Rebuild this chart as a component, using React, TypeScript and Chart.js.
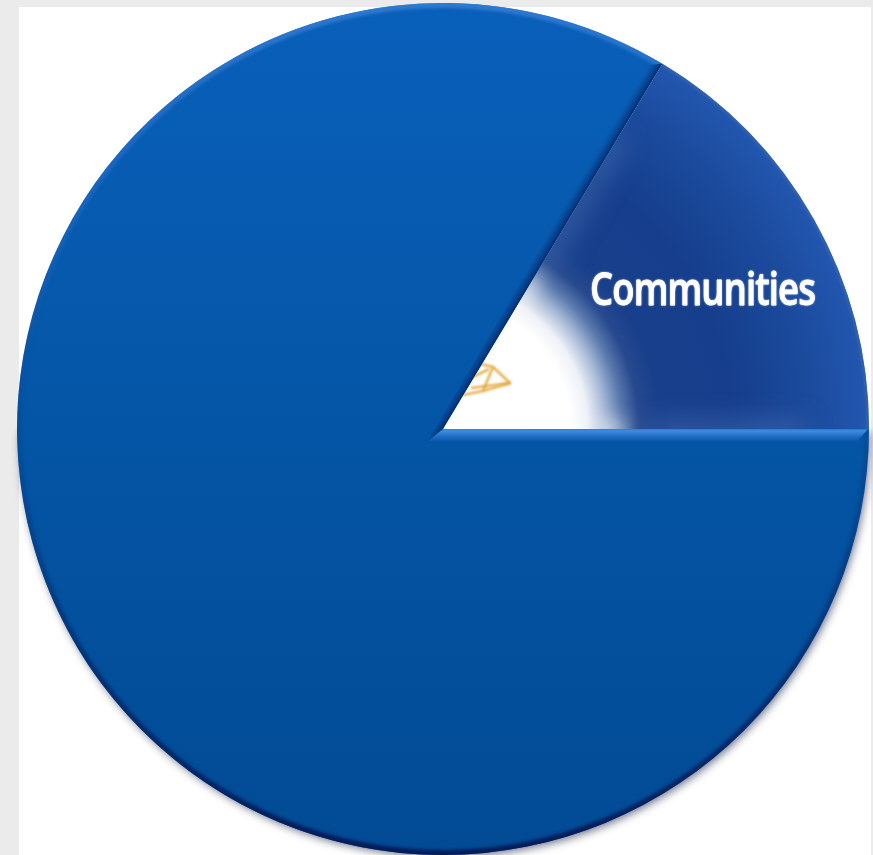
import React, { useEffect, useRef } from "react";
import { Chart, registerables } from "chart.js";

Chart.register(...registerables);

const categories = ["Communities", "Other"];
const shareValues = [16.4, 83.6];
const visibleLabels = ["Communities"];
const startRotation = 31;

const emblemStrokes = [
  [[26, -52], [38, -65], [50, -62], [67, -46], [40, -38], [20, -34]],
  [[50, -62], [40, -38]],
  [[30, -52], [46, -60]],
  [[28, -41], [67, -46]],
];

function sliceFill(c: any) {
  const area = c.chart.chartArea;
  if (!area) return "#0a5cb0";
  const g = c.chart.ctx;
  const cx = (area.left + area.right) / 2;
  const cy = (area.top + area.bottom) / 2;
  const R = (area.right - area.left) / 2;
  if (c.dataIndex === 0) {
    const rad = g.createRadialGradient(cx, cy, 0, cx, cy, R);
    rad.addColorStop(0, "#ffffff");
    rad.addColorStop(0.3, "#ffffff");
    rad.addColorStop(0.34, "#eef1f7");
    rad.addColorStop(0.38, "#a9bad7");
    rad.addColorStop(0.42, "#5a79ad");
    rad.addColorStop(0.46, "#27498f");
    rad.addColorStop(0.51, "#183f8b");
    rad.addColorStop(0.68, "#163e8c");
    rad.addColorStop(0.86, "#1b4a9c");
    rad.addColorStop(1, "#2257b0");
    return rad;
  }
  const lin = g.createLinearGradient(0, area.top, 0, area.bottom);
  lin.addColorStop(0, "#0960ba");
  lin.addColorStop(0.5, "#0455a5");
  lin.addColorStop(1, "#024a94");
  return lin;
}

function slicePath(g: CanvasRenderingContext2D, a: any) {
  g.beginPath();
  g.moveTo(a.x, a.y);
  g.arc(a.x, a.y, a.outerRadius, a.startAngle, a.endAngle);
  g.closePath();
}

// Soft drop shadow under the whole pie.
const pieShadow = {
  id: "pieShadow",
  beforeDatasetsDraw(chart: any) {
    const a = chart.getDatasetMeta(0).data[0];
    const g = chart.ctx;
    g.save();
    g.shadowColor = "rgba(15,25,60,0.6)";
    g.shadowBlur = 9;
    g.shadowOffsetX = 2;
    g.shadowOffsetY = 3;
    g.fillStyle = "#0a3f85";
    g.beginPath();
    g.arc(a.x, a.y, a.outerRadius - 1, 0, Math.PI);
    g.closePath();
    g.fill();
    g.restore();
  },
};

// Bevels, the small emblem and the slice caption.
const sliceDetails = {
  id: "sliceDetails",
  afterDatasetsDraw(chart: any) {
    const g: CanvasRenderingContext2D = chart.ctx;
    const [first, second] = chart.getDatasetMeta(0).data as any[];
    const { x, y, outerRadius: R } = first;
    const ax = Math.cos(first.startAngle);
    const ay = Math.sin(first.startAngle);

    // Highlighted slice: the pale centre trails out along the straight edges.
    g.save();
    slicePath(g, first);
    g.clip();
    g.save();
    g.filter = "blur(9px)";
    g.strokeStyle = "rgba(255,255,255,0.6)";
    g.lineWidth = 14;
    g.beginPath();
    g.moveTo(x + ax * 0.33 * R, y + ay * 0.33 * R);
    g.lineTo(x + ax * 0.43 * R, y + ay * 0.43 * R);
    g.moveTo(x + 0.36 * R, y);
    g.lineTo(x + 0.43 * R, y);
    g.stroke();
    g.restore();
    g.save();
    g.filter = "blur(13px)";
    g.strokeStyle = "rgba(70,112,180,0.7)";
    g.lineWidth = 18;
    g.beginPath();
    g.moveTo(x + ax * 0.45 * R, y + ay * 0.45 * R);
    g.lineTo(x + ax * 0.8 * R, y + ay * 0.8 * R);
    g.moveTo(x + 0.48 * R, y + 2);
    g.lineTo(x + 0.85 * R, y + 2);
    g.stroke();
    g.restore();
    g.save();
    g.filter = "blur(1.2px)";
    g.strokeStyle = "rgba(55,100,175,0.8)";
    g.lineWidth = 5;
    g.beginPath();
    g.arc(x, y, R, first.startAngle, first.endAngle);
    g.stroke();
    g.restore();
    g.strokeStyle = "rgba(226,165,50,0.85)";
    g.lineWidth = 2.6;
    g.lineJoin = "round";
    g.filter = "blur(0.9px)";
    for (const stroke of emblemStrokes) {
      g.beginPath();
      stroke.forEach(([dx, dy], i) => (i ? g.lineTo(x + dx, y + dy) : g.moveTo(x + dx, y + dy)));
      g.stroke();
    }
    g.restore();

    // Caption, narrowed to the slice's width.
    const mid = (first.startAngle + first.endAngle) / 2;
    const tx = x + Math.cos(mid) * R * 0.7;
    const ty = y + Math.sin(mid) * R * 0.7;
    g.save();
    g.font = "600 45px 'Open Sans'";
    (g as any).letterSpacing = "-1px";
    g.textAlign = "center";
    g.textBaseline = "alphabetic";
    g.fillStyle = "#ffffff";
    g.strokeStyle = "#ffffff";
    g.lineWidth = 0.9;
    g.lineJoin = "round";
    g.shadowColor = "rgba(255,255,255,0.55)";
    g.shadowBlur = 2;
    const squeeze = 225 / g.measureText(visibleLabels[0]).width;
    g.translate(tx, ty);
    g.scale(squeeze, 1);
    g.fillText(visibleLabels[0], 0, 23);
    g.strokeText(visibleLabels[0], 0, 23);
    g.restore();

    // Main slice: bevelled rim, lit from above.
    g.save();
    slicePath(g, second);
    g.clip();
    const rim = g.createLinearGradient(0, y - R, 0, y + R);
    rim.addColorStop(0, "rgba(60,130,215,0.75)");
    rim.addColorStop(0.28, "rgba(35,105,195,0.45)");
    rim.addColorStop(0.55, "rgba(5,50,120,0.25)");
    rim.addColorStop(0.8, "rgba(5,35,100,0.7)");
    rim.addColorStop(1, "rgba(5,25,85,0.95)");
    g.save();
    g.filter = "blur(1.5px)";
    g.strokeStyle = rim;
    g.lineWidth = 10;
    g.beginPath();
    g.arc(x, y, R, second.startAngle, second.endAngle);
    g.stroke();
    g.restore();

    // Lit horizontal bevel with mitred ends.
    const band = g.createLinearGradient(0, y - 1, 0, y + 12);
    band.addColorStop(0, "#1f549f");
    band.addColorStop(0.1, "#3585dc");
    band.addColorStop(0.25, "#3a8ae0");
    band.addColorStop(0.6, "#2470c6");
    band.addColorStop(0.9, "#0f5fb2");
    band.addColorStop(1, "#0a58a8");
    g.fillStyle = band;
    g.beginPath();
    g.moveTo(x, y - 1);
    g.lineTo(x + R, y - 1);
    g.lineTo(x + R - 12, y + 12);
    g.lineTo(x - 15, y + 12);
    g.closePath();
    g.fill();

    // Shaded bevel along the slanted edge.
    const nx = ay;
    const ny = -ax;
    const shade = g.createLinearGradient(x, y, x + nx * 12, y + ny * 12);
    shade.addColorStop(0, "rgba(4,40,105,0.95)");
    shade.addColorStop(0.5, "rgba(5,60,135,0.55)");
    shade.addColorStop(1, "rgba(8,85,165,0)");
    g.fillStyle = shade;
    g.beginPath();
    g.moveTo(x, y);
    g.lineTo(x + ax * R, y + ay * R);
    g.lineTo(x + ax * R + nx * 12 - ax * 8, y + ay * R + ny * 12 - ay * 8);
    g.lineTo(x - 15, y + 12);
    g.closePath();
    g.fill();
    g.restore();
  },
};

export default function App() {
  const ref = useRef<HTMLCanvasElement>(null);
  useEffect(() => {
    const chart = new Chart(ref.current!, {
      type: "pie",
      data: {
        labels: categories,
        datasets: [{ data: shareValues, backgroundColor: sliceFill, borderWidth: 0 }],
      },
      options: {
        animation: false,
        responsive: false,
        rotation: startRotation,
        layout: { padding: { left: 17, right: 4, top: 3, bottom: 0 } },
        plugins: { legend: { display: false }, tooltip: { enabled: false } },
      },
      plugins: [pieShadow, sliceDetails],
    });
    return () => chart.destroy();
  }, []);
  return (
    <div style={{ position: "fixed", left: 0, top: 0, width: 873, height: 855, overflow: "hidden", background: "#ebebeb" }}>
      <div style={{ position: "absolute", left: 19, top: 7, width: 852, height: 848, background: "#ffffff" }} />
      <canvas ref={ref} width={873} height={855} style={{ position: "absolute", left: 0, top: 0, display: "block" }} />
    </div>
  );
}
